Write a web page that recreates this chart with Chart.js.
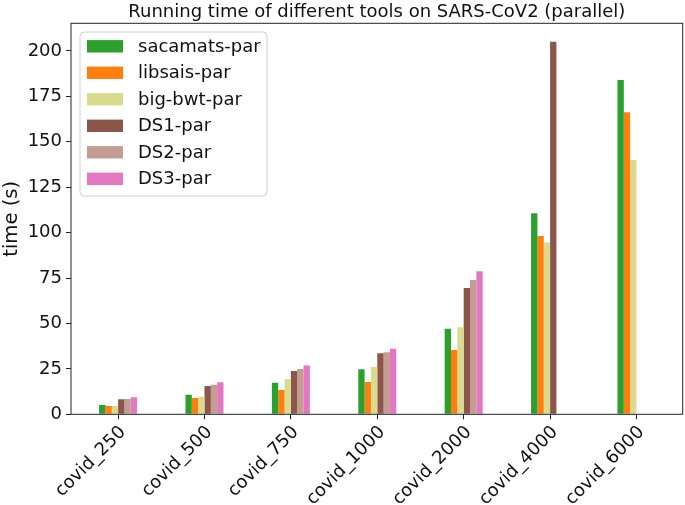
<!DOCTYPE html>
<html>
<head>
<meta charset="utf-8">
<script src="https://cdn.jsdelivr.net/npm/chart.js@4.4.0/dist/chart.umd.min.js"></script>
<style>
  html, body { margin: 0; padding: 0; background: #fff; }
  #wrap { width: 685px; height: 505px; }
</style>
</head>
<body>
<div id="wrap"><canvas id="chart"></canvas></div>
<script>
const categories = ['covid_250', 'covid_500', 'covid_750', 'covid_1000', 'covid_2000', 'covid_4000', 'covid_6000'];
const sacamats = [5.1, 10.8, 17.4, 24.8, 47.1, 110.7, 184.0];
const libsais  = [4.6, 9.0, 13.4, 17.8, 35.4, 98.2, 166.3];
const bigbwt   = [4.6, 9.7, 19.3, 26.0, 47.9, 94.5, 140.0];
const ds1      = [8.3, 15.6, 23.8, 33.6, 69.5, 205.0, null];
const ds2      = [8.4, 16.3, 24.9, 34.1, 73.9, null, null];
const ds3      = [9.4, 17.6, 26.8, 36.1, 78.7, null, null];
const yTicks   = [0, 25, 50, 75, 100, 125, 150, 175, 200];

const titleText = 'Running time of different tools on SARS-CoV2 (parallel)';
const font = 'DejaVu Sans';

function pts(vals) {
  return vals.map((v, i) => ({ x: i, y: v }));
}

const series = [
  { label: 'sacamats-par', data: sacamats, color: '#2ca02c' },
  { label: 'libsais-par',  data: libsais,  color: '#ff7f0e' },
  { label: 'big-bwt-par',  data: bigbwt,   color: '#dbdb8d' },
  { label: 'DS1-par',      data: ds1,      color: '#8c564b' },
  { label: 'DS2-par',      data: ds2,      color: '#c49c94' },
  { label: 'DS3-par',      data: ds3,      color: '#e377c2' }
];

// title, frame and the legend box inside the axes
const decor = {
  id: 'decor',
  afterDraw(chart) {
    const ctx = chart.ctx;
    const a = chart.chartArea;
    ctx.save();
    ctx.strokeStyle = '#222';
    ctx.lineWidth = 1;
    ctx.strokeRect(a.left, a.top, a.right - a.left, a.bottom - a.top);

    ctx.fillStyle = '#111';
    ctx.font = '18px "' + font + '"';
    ctx.textAlign = 'center';
    ctx.textBaseline = 'middle';
    ctx.fillText(titleText, (a.left + a.right) / 2, 12);

    const bx = 80, by = 32, bw = 187, bh = 164;
    ctx.beginPath();
    ctx.roundRect(bx, by, bw, bh, 4);
    ctx.fillStyle = 'rgba(255,255,255,0.8)';
    ctx.fill();
    ctx.strokeStyle = '#d0d0d0';
    ctx.stroke();

    ctx.textAlign = 'left';
    ctx.font = '18px "' + font + '"';
    chart.data.datasets.forEach((ds, i) => {
      const cy = 46.3 + i * 26.5;
      ctx.fillStyle = ds.backgroundColor;
      ctx.fillRect(87, cy - 6.2, 36, 12.4);
      ctx.fillStyle = '#111';
      ctx.fillText(ds.label, 138, cy + 1);
    });
    ctx.restore();
  }
};

new Chart(document.getElementById('chart'), {
  type: 'bar',
  data: {
    datasets: series.map(s => ({
      label: s.label,
      data: pts(s.data),
      backgroundColor: s.color,
      borderWidth: 0,
      categoryPercentage: 0.44,
      barPercentage: 1.0
    }))
  },
  options: {
    responsive: true,
    maintainAspectRatio: false,
    animation: false,
    layout: { padding: { top: 23.3, right: 2.3, left: 0, bottom: 0 } },
    plugins: {
      legend: { display: false },
      title: { display: false },
      tooltip: { enabled: false }
    },
    scales: {
      x: {
        type: 'linear',
        offset: false,
        min: -0.545,
        max: 6.535,
        afterBuildTicks: s => { s.ticks = categories.map((c, i) => ({ value: i })); },
        afterFit: s => { s.height = 90.7; },
        grid: { offset: false, drawOnChartArea: false, drawTicks: true, tickLength: 5, color: '#222' },
        border: { display: false },
        ticks: {
          autoSkip: false,
          minRotation: 45,
          maxRotation: 45,
          padding: 2.5,
          labelOffset: 5,
          color: '#111',
          font: { family: font, size: 18 },
          callback: v => categories[v]
        }
      },
      y: {
        min: 0,
        max: 215.2,
        afterBuildTicks: s => { s.ticks = yTicks.map(v => ({ value: v })); },
        afterFit: s => { s.width = 71; },
        grid: { drawOnChartArea: false, drawTicks: true, tickLength: 5, color: '#222' },
        border: { display: false },
        title: {
          display: true,
          text: 'time (s)',
          color: '#111',
          font: { family: font, size: 19.6 },
          padding: { top: 0, bottom: 0 }
        },
        ticks: {
          padding: 4,
          color: '#111',
          font: { family: font, size: 18 }
        }
      }
    }
  },
  plugins: [decor]
});
</script>
</body>
</html>
